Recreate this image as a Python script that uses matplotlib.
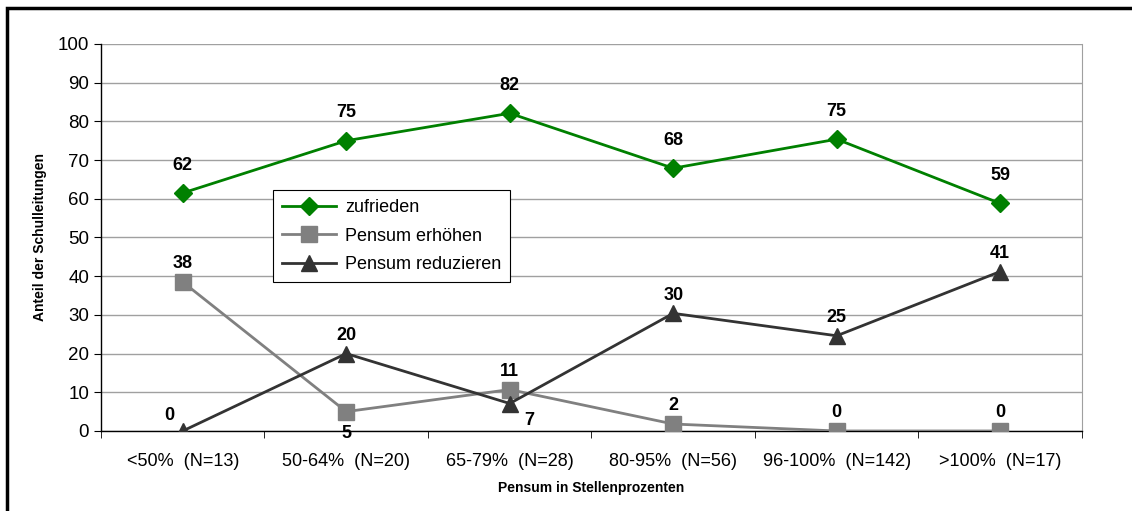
import matplotlib
matplotlib.use('Agg')
import matplotlib.pyplot as plt
from matplotlib.patches import Rectangle

plt.rcParams['font.family'] = ['Liberation Sans', 'DejaVu Sans']

# data
categories = ['<50%  (N=13)', '50-64%  (N=20)', '65-79%  (N=28)',
              '80-95%  (N=56)', '96-100%  (N=142)', '>100%  (N=17)']
zufrieden = [61.5, 75.0, 82.1, 67.9, 75.4, 58.8]
erhoehen = [38.5, 5.0, 10.7, 1.8, 0.0, 0.0]
reduzieren = [0.0, 20.0, 7.1, 30.4, 24.6, 41.2]

# label offsets (dx, dy) in points
off_zuf = [(0, 20)] * 6
off_erh = [(0, 13), (0, -16), (0, 13), (0, 13), (0, 13), (0, 13)]
off_red = [(-10, 11), (0, 13), (14, -12), (0, 13), (0, 13), (0, 13)]

fig = plt.figure(figsize=(11.32, 5.11), dpi=100)
ax = fig.add_axes([0.0892, 0.1566, 0.8666, 0.7573])

x = list(range(len(categories)))
ax.plot(x, zufrieden, color='#008000', lw=2, marker='D', ms=9, label='zufrieden', zorder=3)
ax.plot(x, erhoehen, color='#808080', lw=2, marker='s', ms=12, label='Pensum erhöhen', zorder=3)
ax.plot(x, reduzieren, color='#333333', lw=2, marker='^', ms=12, label='Pensum reduzieren', zorder=4)

for vals, offs in [(zufrieden, off_zuf), (erhoehen, off_erh), (reduzieren, off_red)]:
    for i, v in enumerate(vals):
        ax.annotate(f'{v:.0f}', (i, v), xytext=offs[i], textcoords='offset points',
                    ha='center', va='center', fontsize=13, fontweight='bold')

ax.set_xlim(-0.5, len(categories) - 0.5)
ax.set_ylim(0, 100)
ax.set_yticks(range(0, 101, 10))
ax.set_xticks(x)
ax.set_xticklabels(categories, fontsize=13)
ax.set_xticks([i - 0.5 for i in range(len(categories) + 1)], minor=True)
ax.tick_params(axis='x', which='major', length=0, pad=16)
ax.tick_params(axis='x', which='minor', length=5, direction='out')
ax.tick_params(axis='y', labelsize=13.5, length=5, direction='out')
ax.yaxis.grid(True, color='#a0a0a0', lw=1)
ax.set_axisbelow(True)
ax.spines['top'].set_visible(False)
ax.spines['right'].set_color('#a0a0a0')
ax.spines['left'].set_linewidth(1)
ax.spines['bottom'].set_linewidth(1)

ax.set_xlabel('Pensum in Stellenprozenten', fontsize=10, fontweight='bold', labelpad=8)
ax.set_ylabel('Anteil der Schulleitungen', fontsize=10, fontweight='bold', labelpad=8)

leg = ax.legend(loc='upper left', bbox_to_anchor=(0.175, 0.623), fontsize=13,
                frameon=True, fancybox=False, edgecolor='black', framealpha=1,
                borderaxespad=0, borderpad=0.5, handlelength=3, handletextpad=0.5,
                labelspacing=0.65)
leg.get_frame().set_linewidth(0.8)

# outer frame
fig.patches.append(Rectangle((0.006, -0.05), 1.1, 1.034, transform=fig.transFigure,
                             fill=False, edgecolor='black', lw=2.5))

fig.savefig('out.png', dpi=100)
